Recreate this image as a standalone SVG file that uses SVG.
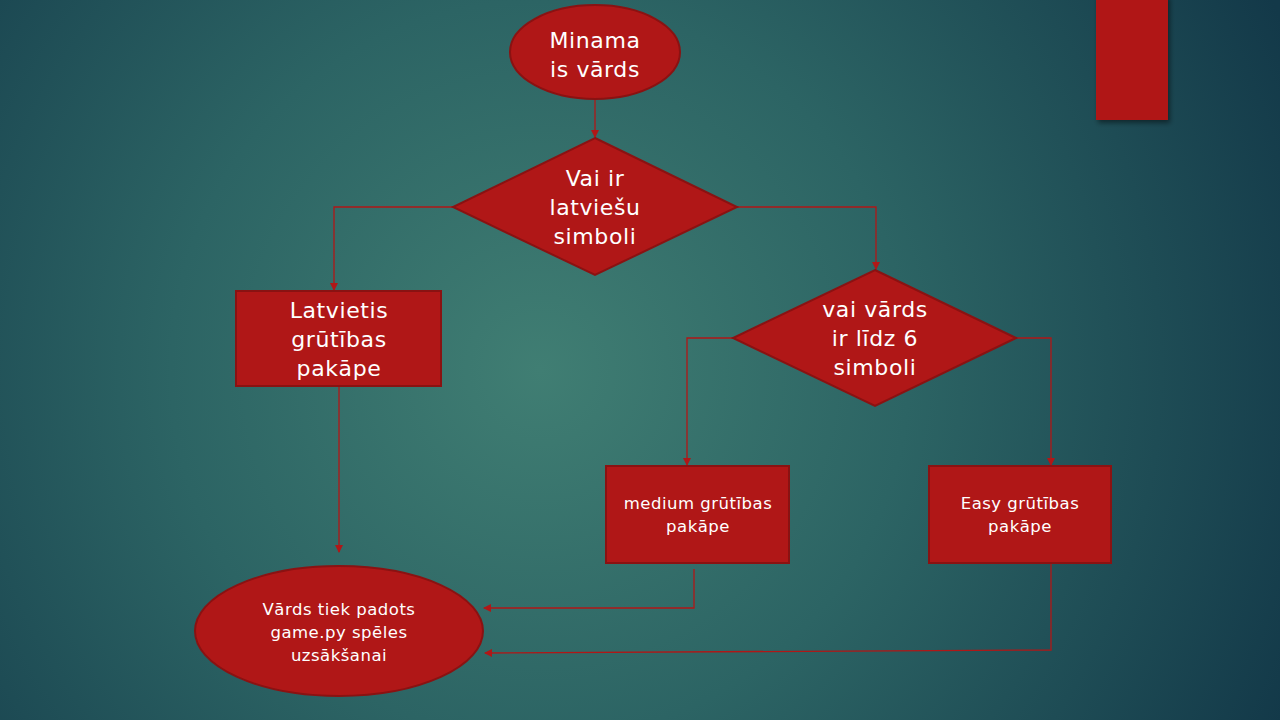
<svg xmlns="http://www.w3.org/2000/svg" width="1280" height="720" viewBox="0 0 1280 720">
<defs>
<radialGradient id="bg" cx="540" cy="370" r="820" gradientUnits="userSpaceOnUse">
<stop offset="0" stop-color="#407e73"/>
<stop offset="0.45" stop-color="#2c6464"/>
<stop offset="1" stop-color="#133949"/>
</radialGradient>
<marker id="arr" markerWidth="8" markerHeight="8" refX="7" refY="4" orient="auto" markerUnits="userSpaceOnUse">
<path d="M0,0 L8,4 L0,8 Z" fill="#b01717"/>
</marker>
<filter id="sh" x="-20%" y="-20%" width="150%" height="150%">
<feDropShadow dx="2" dy="3" stdDeviation="2.5" flood-color="#000" flood-opacity="0.45"/>
</filter>
</defs>
<style>
.n{fill:#b01717;stroke:#8a1212;stroke-width:2}
.t{font-family:"DejaVu Sans","Liberation Sans",Arial,sans-serif;fill:#ffffff;text-anchor:middle}
.big{font-size:22px;letter-spacing:0.6px}
.sm{font-size:16.5px;letter-spacing:0.5px}
.c{fill:none;stroke:#b01717;stroke-width:1.3;marker-end:url(#arr)}
</style>
<rect width="1280" height="720" fill="url(#bg)"/>
<rect x="1096" y="-5" width="72" height="125" fill="#b01717" filter="url(#sh)"/>

<g id="connectors">
<path class="c" d="M595,100 L595,137"/>
<path class="c" d="M453,207 L334,207 L334,290"/>
<path class="c" d="M737,207 L876,207 L876,269"/>
<path class="c" d="M733,338 L687,338 L687,465"/>
<path class="c" d="M1016,338 L1051,338 L1051,465"/>
<path class="c" d="M339,386 L339,552"/>
<path class="c" d="M694,569 L694,608 L484,608"/>
<path class="c" d="M1051,563 L1051,650 L485,653"/>
</g>

<g id="start">
<ellipse class="n" cx="595" cy="52" rx="85" ry="47"/>
<text class="t big" x="595" y="48">Minama</text>
<text class="t big" x="595" y="77">is vārds</text>
</g>

<g id="decision1">
<polygon class="n" points="595,138 737,207 595,275 453,207"/>
<text class="t big" x="595" y="186">Vai ir</text>
<text class="t big" x="595" y="215">latviešu</text>
<text class="t big" x="595" y="244">simboli</text>
</g>

<g id="latvietis">
<rect class="n" x="236" y="291" width="205" height="95"/>
<text class="t big" x="339" y="318">Latvietis</text>
<text class="t big" x="339" y="347">grūtības</text>
<text class="t big" x="339" y="376">pakāpe</text>
</g>

<g id="decision2">
<polygon class="n" points="875,270 1016,338 875,406 733,338"/>
<text class="t big" x="875" y="317">vai vārds</text>
<text class="t big" x="875" y="346">ir līdz 6</text>
<text class="t big" x="875" y="375">simboli</text>
</g>

<g id="medium">
<rect class="n" x="606" y="466" width="183" height="97"/>
<text class="t sm" x="698" y="509">medium grūtības</text>
<text class="t sm" x="698" y="532">pakāpe</text>
</g>

<g id="easy">
<rect class="n" x="929" y="466" width="182" height="97"/>
<text class="t sm" x="1020" y="509">Easy grūtības</text>
<text class="t sm" x="1020" y="532">pakāpe</text>
</g>

<g id="end">
<ellipse class="n" cx="339" cy="631" rx="144" ry="65"/>
<text class="t sm" x="339" y="615">Vārds tiek padots</text>
<text class="t sm" x="339" y="638">game.py spēles</text>
<text class="t sm" x="339" y="661">uzsākšanai</text>
</g>
</svg>
